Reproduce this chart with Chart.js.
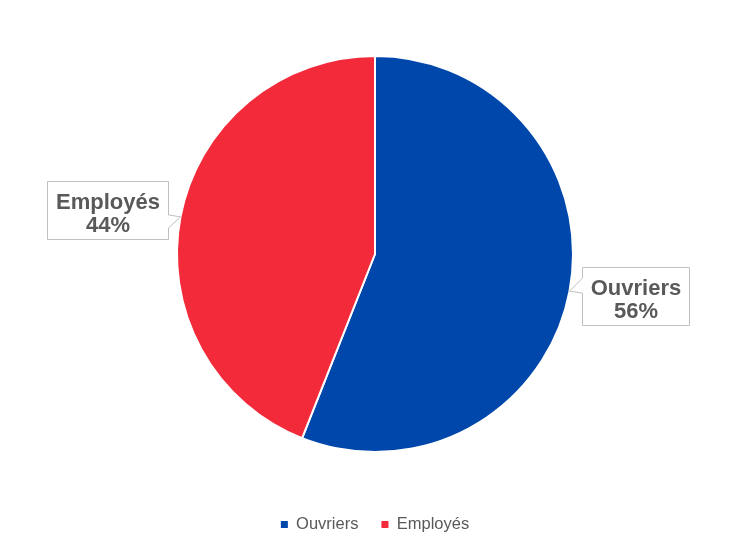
<!DOCTYPE html>
<html>
<head>
<meta charset="utf-8">
<script src="https://cdn.jsdelivr.net/npm/chart.js@4/dist/chart.umd.min.js"></script>
<style>
  html, body { margin: 0; padding: 0; background: #ffffff; }
  #wrap { width: 750px; height: 555px; }
</style>
</head>
<body>
<div id="wrap"><canvas id="c" width="750" height="555"></canvas></div>
<script>
// ---- data ----
const categories = ['Ouvriers', 'Employés'];
const values = [56, 44];
const sliceColors = ['#0047AB', '#F22A3A'];

// ---- callout layout (per slice): box offset from the slice's outer mid-point ----
const calloutLayout = [
  { side: 'right', gap: 12.5, dy: -24, baseTop: -13, baseBottom: 2 },
  { side: 'left',  gap: 12.5, dy: -36, baseTop: -2,  baseBottom: 11 }
];

const calloutPlugin = {
  id: 'callouts',
  afterDatasetsDraw(chart) {
    const ctx = chart.ctx;
    const meta = chart.getDatasetMeta(0);
    const data = chart.data.datasets[0].data;
    const total = data.reduce((a, b) => a + b, 0);
    ctx.save();
    ctx.font = 'bold 22px "Liberation Sans", Arial, sans-serif';
    meta.data.forEach((arc, i) => {
      const p = arc.getProps(['x', 'y', 'startAngle', 'endAngle', 'outerRadius'], true);
      const mid = (p.startAngle + p.endAngle) / 2;
      const tipX = p.x + Math.cos(mid) * p.outerRadius;
      const tipY = p.y + Math.sin(mid) * p.outerRadius;
      const lines = [chart.data.labels[i], Math.round(data[i] / total * 100) + '%'];
      const tw = Math.max(...lines.map(l => ctx.measureText(l).width));
      const w = Math.round(tw + 17);
      const h = 58;
      const L = calloutLayout[i];
      let left;
      if (L.side === 'right') left = tipX + L.gap; else left = tipX - L.gap - w;
      left = Math.round(left) + 0.5;
      const top = Math.round(tipY + L.dy) + 0.5;
      const right = left + w, bottom = top + h;
      const b1 = tipY + L.baseTop, b2 = tipY + L.baseBottom;

      ctx.beginPath();
      ctx.moveTo(left, top);
      ctx.lineTo(right, top);
      if (L.side === 'left') {
        ctx.lineTo(right, b1);
        ctx.lineTo(tipX, tipY);
        ctx.lineTo(right, b2);
      }
      ctx.lineTo(right, bottom);
      ctx.lineTo(left, bottom);
      if (L.side === 'right') {
        ctx.lineTo(left, b2);
        ctx.lineTo(tipX, tipY);
        ctx.lineTo(left, b1);
      }
      ctx.closePath();
      ctx.fillStyle = '#ffffff';
      ctx.fill();
      ctx.strokeStyle = '#BFBFBF';
      ctx.lineWidth = 1;
      ctx.stroke();

      ctx.fillStyle = '#595959';
      ctx.textAlign = 'center';
      ctx.textBaseline = 'alphabetic';
      const cx = left + w / 2;
      ctx.fillText(lines[0], cx, top + 27);
      ctx.fillText(lines[1], cx, top + 50.5);
    });
    ctx.restore();
  }
};

new Chart(document.getElementById('c'), {
  type: 'pie',
  data: {
    labels: categories,
    datasets: [{
      data: values,
      backgroundColor: sliceColors,
      borderColor: '#ffffff',
      borderWidth: 2,
      radius: 198
    }]
  },
  options: {
    responsive: false,
    animation: false,
    layout: { padding: { top: 14.75, bottom: 12.25, left: 0, right: 0 } },
    plugins: {
      tooltip: { enabled: false },
      legend: {
        position: 'bottom',
        labels: {
          boxWidth: 7,
          boxHeight: 7,
          padding: 23,
          color: '#595959',
          font: { family: '"Liberation Sans", Arial, sans-serif', size: 16.5 },
          generateLabels(chart) {
            const items = Chart.overrides.pie.plugins.legend.labels.generateLabels(chart);
            items.forEach(it => { it.lineWidth = 0; it.strokeStyle = 'rgba(0,0,0,0)'; });
            return items;
          }
        }
      }
    }
  },
  plugins: [calloutPlugin]
});
</script>
</body>
</html>
